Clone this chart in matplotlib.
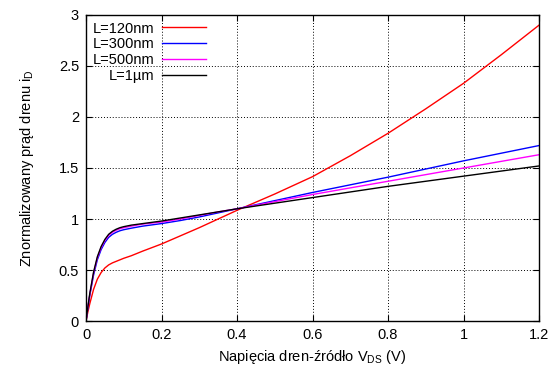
import matplotlib
matplotlib.use("Agg")
import matplotlib.pyplot as plt
from matplotlib.ticker import FuncFormatter

plt.rcParams['font.family'] = ['Liberation Sans', 'DejaVu Sans']
plt.rcParams['mathtext.fontset'] = 'custom'
plt.rcParams['mathtext.rm'] = 'Liberation Sans'
plt.rcParams['mathtext.it'] = 'Liberation Sans'

# V_DS samples (V)
vds = [0, 0.005, 0.01, 0.02, 0.03, 0.04, 0.05, 0.06, 0.07, 0.08, 0.09, 0.1, 0.12,
       0.15, 0.2, 0.25, 0.3, 0.35, 0.4, 0.5, 0.6, 0.7, 0.8, 0.9, 1.0, 1.1, 1.2]

# normalized drain current for each channel length
id_120 = [0, 0.09, 0.17, 0.31, 0.41, 0.475, 0.52, 0.55, 0.57, 0.585, 0.6, 0.615, 0.64,
          0.685, 0.755, 0.835, 0.915, 1.0, 1.085, 1.245, 1.415, 1.62, 1.84, 2.08, 2.33,
          2.61, 2.9]
id_300 = [0, 0.13, 0.25, 0.45, 0.6, 0.7, 0.77, 0.82, 0.85, 0.87, 0.885, 0.895, 0.91,
          0.93, 0.955, 0.985, 1.02, 1.06, 1.10, 1.18, 1.26, 1.335, 1.41, 1.49, 1.57,
          1.645, 1.72]
id_500 = [0, 0.14, 0.26, 0.47, 0.62, 0.72, 0.79, 0.84, 0.87, 0.89, 0.905, 0.915, 0.93,
          0.95, 0.97, 1.0, 1.035, 1.07, 1.10, 1.17, 1.24, 1.305, 1.37, 1.435, 1.50,
          1.565, 1.63]
id_1u = [0, 0.14, 0.27, 0.48, 0.63, 0.73, 0.8, 0.85, 0.88, 0.9, 0.915, 0.925, 0.94,
         0.955, 0.98, 1.01, 1.04, 1.07, 1.10, 1.155, 1.21, 1.265, 1.32, 1.37, 1.42,
         1.47, 1.52]

fig = plt.figure(figsize=(5.6, 3.7), dpi=100)
ax = fig.add_axes([0.1536, 0.1324, 0.8089, 0.8271])

ax.plot(vds, id_120, color='#ff0000', lw=1, label='L=120nm')
ax.plot(vds, id_300, color='#0000ff', lw=1, label='L=300nm')
ax.plot(vds, id_500, color='#ff00ff', lw=1, label='L=500nm')
ax.plot(vds, id_1u, color='#000000', lw=1, label='L=1µm')

ax.set_xlim(0, 1.2)
ax.set_ylim(0, 3)
ax.set_xticks([0, 0.2, 0.4, 0.6, 0.8, 1.0, 1.2])
ax.set_yticks([0, 0.5, 1, 1.5, 2, 2.5, 3])
fmt = FuncFormatter(lambda v, p: '%g' % v)
ax.xaxis.set_major_formatter(fmt)
ax.yaxis.set_major_formatter(fmt)
ax.tick_params(direction='in', top=True, right=True, labelsize=10.5, length=4, pad=5)
ax.grid(True, color='black', linestyle=(0, (1, 2)), lw=0.7)
for s in ax.spines.values():
    s.set_linewidth(1)

ax.set_xlabel('Napięcia dren-źródło V$_{\\mathrm{DS}}$ (V)', fontsize=10.5, labelpad=4)
ax.set_ylabel('Znormalizowany prąd drenu i$_{\\mathrm{D}}$', fontsize=10.5, labelpad=16)

leg = ax.legend(loc='upper left', markerfirst=False, frameon=False, fontsize=10.5,
                handlelength=3.0, labelspacing=0.12, borderaxespad=0.15,
                handletextpad=0.55, borderpad=0.3)
for t in leg.get_texts():
    t.set_ha('right')
leg._legend_box.align = 'right'

fig.savefig('out.png', dpi=100)
